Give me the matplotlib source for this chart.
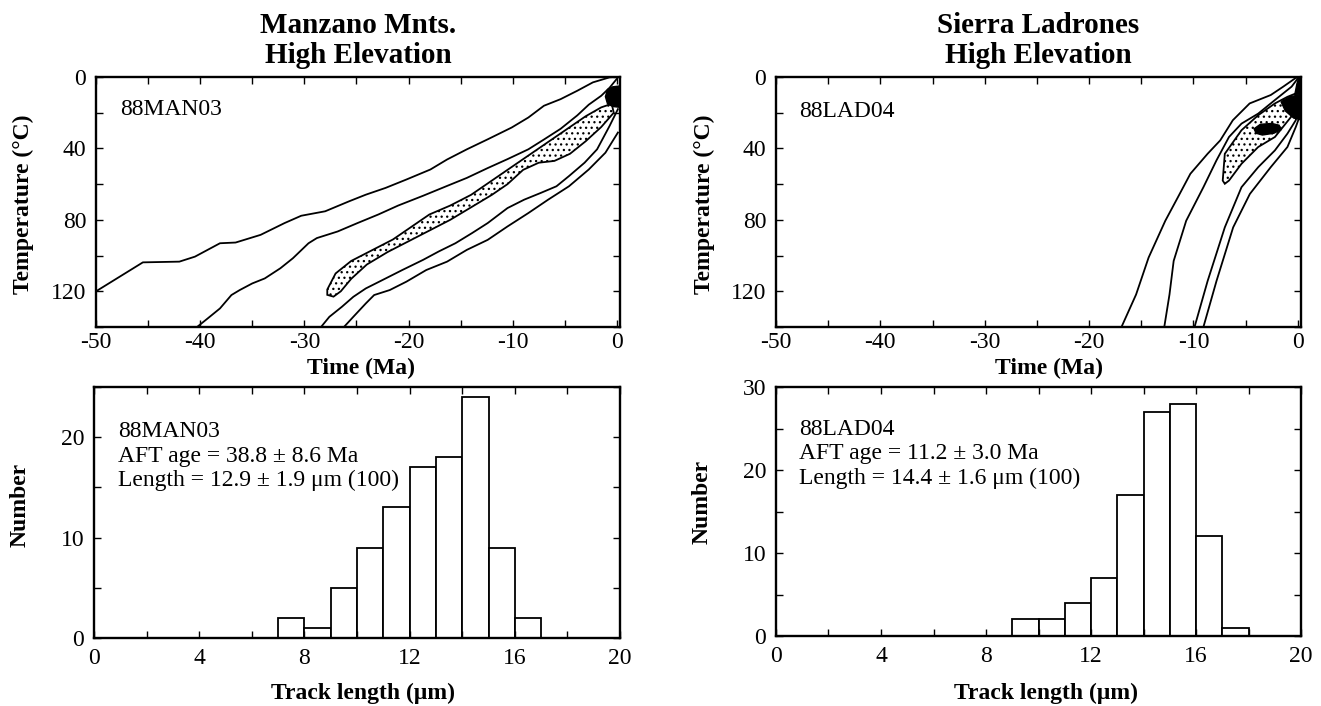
import matplotlib
matplotlib.use('Agg')
import matplotlib.pyplot as plt
from matplotlib.ticker import MultipleLocator

plt.rcParams['font.family'] = ['Liberation Serif', 'DejaVu Serif']
plt.rcParams['hatch.linewidth'] = 0.9
plt.rcParams['axes.unicode_minus'] = False

# ---------------- data ----------------
# Manzano Mnts. 88MAN03 thermal history envelopes (time Ma, temperature C)
man_a_t = [-50, -49.8, -45.5, -42.0, -40.5, -38.1, -36.6, -34.2, -31.9, -30.3, -28.0, -25.7, -24.1, -22.2,
           -20.2, -17.9, -16.3, -14.4, -12.4, -10.1, -8.5, -7.0, -5.4, -3.8, -2.3, -0.7, 0.0]
man_a_T = [120, 119.3, 103.8, 103.4, 100.6, 93.1, 92.7, 88.4, 81.8, 77.7, 75.2, 69.6, 65.9, 62.1,
           57.4, 51.8, 46.2, 40.5, 34.9, 28.3, 22.7, 16.1, 12.4, 7.7, 3.0, 0.2, 0.0]
man_b_t = [-40.3, -39.3, -38.1, -37.0, -36.2, -35.0, -33.8, -32.3, -31.1, -29.6, -28.8, -26.8, -24.9, -22.9,
           -21.0, -18.6, -16.3, -14.4, -12.4, -10.5, -8.5, -7.0, -5.4, -3.8, -2.7, -1.5, -0.7, 0.0]
man_b_T = [140, 135.3, 129.6, 122.1, 119.3, 115.6, 112.8, 107.1, 101.5, 93.1, 90.2, 86.5, 81.8, 77.0,
           72.0, 66.5, 61.0, 56.5, 51.0, 46.0, 40.5, 35.0, 29.0, 21.5, 15.5, 10.5, 6.0, 1.0]
man_c_t = [-28.4, -27.6, -26.4, -25.3, -24.1, -22.5, -20.6, -18.6, -17.1, -15.5, -13.9, -12.4, -10.5, -8.9,
           -7.3, -5.8, -4.6, -3.1, -1.9, -0.7, 0.1]
man_c_T = [140, 134.3, 128.7, 123.1, 118.4, 113.7, 108.1, 102.4, 97.7, 93.1, 87.4, 81.8, 73.4, 68.7,
           64.9, 61.2, 55.5, 48.0, 40.5, 27.4, 18.0]
man_d_t = [-26.2, -25.3, -24.1, -23.3, -21.8, -20.2, -18.3, -16.3, -14.4, -12.4, -10.5, -8.5, -6.6, -4.6,
           -2.7, -1.1, 0.1]
man_d_T = [140, 134.3, 126.8, 122.1, 119.3, 114.6, 108.1, 103.4, 96.8, 91.2, 83.7, 76.2, 68.7, 61.2,
           51.8, 42.4, 31.1]
man_best_t = [-27.8, -27.0, -25.5, -23.5, -21.5, -19.5, -18.0, -16.0, -14.0, -12.0, -10.0, -8.0, -6.0,
              -4.5, -3.0, -1.5, -0.5,
              -0.3, -1.5, -3.0, -4.5, -6.0, -7.5, -9.0, -10.5, -12.0, -14.0, -16.0, -18.0, -20.0,
              -22.0, -24.0, -25.5, -26.5, -27.2, -27.8]
man_best_T = [119.0, 110.0, 103.0, 97.0, 91.0, 83.0, 77.0, 72.0, 66.0, 58.0, 50.0, 42.0, 34.0,
              28.0, 22.0, 17.0, 15.0,
              20.0, 28.0, 36.0, 43.0, 47.0, 48.0, 52.0, 60.0, 66.0, 73.0, 80.0, 86.0, 92.0,
              98.0, 105.0, 113.0, 120.0, 123.0, 122.0]
man_blob_t = [-1.1, -0.9, -0.4, 0.3, 0.3, -0.4, -0.9]
man_blob_T = [11.0, 7.0, 5.5, 5.0, 17.0, 16.5, 15.0]

# Sierra Ladrones 88LAD04
lad_a_t = [-16.9, -15.5, -14.3, -12.7, -11.5, -10.3, -8.65, -7.44, -6.23, -4.62, -2.6, -1.4, -0.2, 0.2]
lad_a_T = [140, 121.8, 101.1, 80.5, 67.4, 54.2, 43.0, 35.5, 24.2, 14.8, 10.1, 5.4, 0.5, 0.0]
lad_b_t = [-12.8, -12.3, -11.9, -10.7, -9.05, -7.8, -6.6, -5.4, -3.8, -2.2, -0.6, 0.1]
lad_b_T = [140, 121.8, 103.0, 80.5, 61.7, 46.7, 33.6, 26.1, 20.5, 12.9, 5.4, 0.0]
lad_c_t = [-9.9, -8.65, -7.0, -5.4, -3.8, -2.2, -1.0, -0.2, 0.3]
lad_c_T = [140, 114.3, 84.2, 61.7, 50.5, 41.1, 31.7, 24.2, 9.2]
lad_d_t = [-9.05, -7.8, -6.2, -4.6, -2.6, -1.0, -0.2, 0.3]
lad_d_T = [140, 114.3, 84.2, 65.5, 50.5, 39.2, 28.0, 20.0]
lad_best_t = [-7.2, -7.0, -5.4, -3.8, -2.2, -1.0, -0.2, -0.4, -2.2, -3.8, -5.4, -6.6, -7.0]
lad_best_T = [58.0, 43.0, 29.8, 21.4, 14.8, 11.1, 9.2, 20.5, 33.6, 39.2, 48.6, 58.0, 59.8]
lad_blob1_t = [-4.2, -3.6, -2.5, -1.8, -1.6, -2.3, -3.4, -4.0]
lad_blob1_T = [29.0, 26.5, 26.0, 27.0, 29.5, 31.5, 32.5, 31.5]
lad_blob2_t = [-1.6, -0.8, 0.3, 0.3, -0.4, -1.2]
lad_blob2_T = [14.0, 11.0, 10.0, 24.0, 23.0, 19.0]
lad_blob3_t = [-0.3, -0.1, 0.1, 0.3, 0.3]
lad_blob3_T = [10.0, 4.0, 0.0, 0.0, 10.0]

# Track length histograms (1 um bins)
man_bin_left = [7, 8, 9, 10, 11, 12, 13, 14, 15, 16]
man_counts = [2, 1, 5, 9, 13, 17, 18, 24, 9, 2]
lad_bin_left = [9, 10, 11, 12, 13, 14, 15, 16, 17]
lad_counts = [2, 2, 4, 7, 17, 27, 28, 12, 1]

titles = [("Manzano Mnts.", "High Elevation"), ("Sierra Ladrones", "High Elevation")]
samples = ["88MAN03", "88LAD04"]
ages = ["AFT age = 38.8 \u00b1 8.6 Ma", "AFT age = 11.2 \u00b1 3.0 Ma"]
lengths = ["Length = 12.9 \u00b1 1.9 \u03bcm (100)", "Length = 14.4 \u00b1 1.6 \u03bcm (100)"]

# ---------------- figure ----------------
W, H = 1321, 706
fig = plt.figure(figsize=(W / 100, H / 100), dpi=100)


def pos(l, t, r, b):
    return [l / W, 1 - b / H, (r - l) / W, (b - t) / H]


FS = 17
LW = 1.3


def style(ax, xpad):
    for s in ax.spines.values():
        s.set_linewidth(1.7)
    ax.tick_params(which='both', direction='in', top=True, right=True, width=1.0,
                   labelsize=FS, length=5)
    ax.tick_params(axis='y', pad=7)
    ax.tick_params(axis='x', pad=xpad)


ax_tl = fig.add_axes(pos(96, 77, 620, 327))
ax_tr = fig.add_axes(pos(776, 77, 1301, 327))
ax_bl = fig.add_axes(pos(94, 387, 620, 638))
ax_br = fig.add_axes(pos(776, 387, 1301, 636))

for ax in (ax_tl, ax_tr):
    style(ax, 3.5)
    ax.set_xlim(-50, 0.3)
    ax.set_ylim(140, 0)
    ax.xaxis.set_major_locator(MultipleLocator(10))
    ax.xaxis.set_minor_locator(MultipleLocator(5))
    ax.yaxis.set_major_locator(MultipleLocator(40))
    ax.yaxis.set_minor_locator(MultipleLocator(20))

# top-left paths
for t, T in [(man_a_t, man_a_T), (man_b_t, man_b_T), (man_c_t, man_c_T), (man_d_t, man_d_T)]:
    ax_tl.plot(t, T, color='black', lw=LW)
ax_tl.fill(man_best_t, man_best_T, facecolor='white', edgecolor='black', lw=LW, hatch='...')
ax_tl.fill(man_blob_t, man_blob_T, facecolor='black', edgecolor='black', lw=1)

# top-right paths
for t, T in [(lad_a_t, lad_a_T), (lad_b_t, lad_b_T), (lad_c_t, lad_c_T), (lad_d_t, lad_d_T)]:
    ax_tr.plot(t, T, color='black', lw=LW)
ax_tr.fill(lad_best_t, lad_best_T, facecolor='white', edgecolor='black', lw=LW, hatch='...')
for t, T in [(lad_blob1_t, lad_blob1_T), (lad_blob2_t, lad_blob2_T), (lad_blob3_t, lad_blob3_T)]:
    ax_tr.fill(t, T, facecolor='black', edgecolor='black', lw=1)

ax_tl.text(0.046, 0.848, samples[0], transform=ax_tl.transAxes, fontsize=FS, va='baseline')
ax_tr.text(0.044, 0.84, samples[1], transform=ax_tr.transAxes, fontsize=FS, va='baseline')

# histograms
ax_bl.bar(man_bin_left, man_counts, width=1, align='edge', facecolor='white', edgecolor='black', lw=LW)
ax_br.bar(lad_bin_left, lad_counts, width=1, align='edge', facecolor='white', edgecolor='black', lw=LW)
for ax, ymax in ((ax_bl, 25), (ax_br, 30)):
    style(ax, 7)
    ax.set_xlim(0, 20)
    ax.set_ylim(0, ymax)
    ax.xaxis.set_major_locator(MultipleLocator(4))
    ax.xaxis.set_minor_locator(MultipleLocator(2))
    ax.yaxis.set_major_locator(MultipleLocator(10))
    ax.yaxis.set_minor_locator(MultipleLocator(5))

for ax, x0, y0, i in ((ax_bl, 0.046, 0.80, 0), (ax_br, 0.044, 0.807, 1)):
    step = 24.5 / 250
    for k, s in enumerate([samples[i], ages[i], lengths[i]]):
        ax.text(x0, y0 - k * step, s, transform=ax.transAxes, fontsize=FS, va='baseline')

# titles
for (l1, l2), cx in zip(titles, [358, 1038]):
    fig.text(cx / W, 1 - 33 / H, l1, ha='center', va='baseline', fontsize=21, fontweight='bold')
    fig.text(cx / W, 1 - 63 / H, l2, ha='center', va='baseline', fontsize=21, fontweight='bold')

# axis labels
for cx in (361, 1049):
    fig.text(cx / W, 1 - 374 / H, "Time (Ma)", ha='center', va='baseline', fontsize=FS, fontweight='bold')
for cx in (363, 1046):
    fig.text(cx / W, 1 - 699 / H, "Track length (\u03bcm)", ha='center', va='baseline', fontsize=FS,
             fontweight='bold')
for cx in (23, 704):
    fig.text(cx / W, 1 - 204 / H, "Temperature (\u00b0C)", ha='center', va='center', rotation=90,
             fontsize=FS, fontweight='bold')
for cx, cy in ((20, 505), (702, 502)):
    fig.text(cx / W, 1 - cy / H, "Number", ha='center', va='center', rotation=90,
             fontsize=FS, fontweight='bold')

fig.savefig('out.png', dpi=100)
